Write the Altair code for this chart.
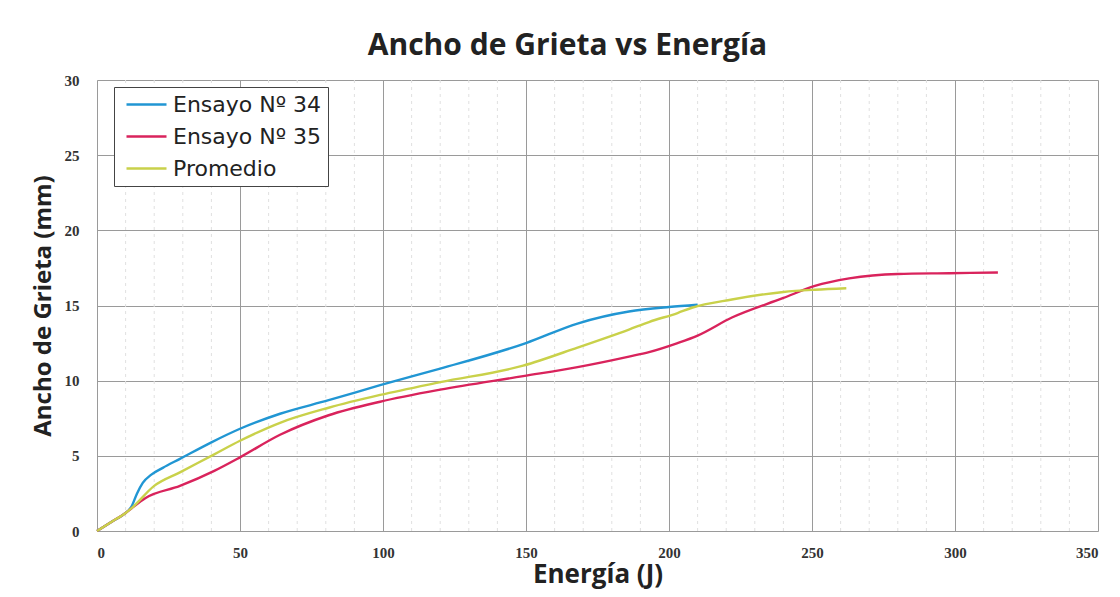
import altair as alt
import pandas as pd

# Ensayo Nº 34
x34 = [0, 5, 10, 12, 14, 16, 19, 23, 29, 40, 50, 64, 81, 99, 120, 150, 168, 186, 200, 210]
y34 = [0, 0.6, 1.2, 1.6, 2.5, 3.2, 3.75, 4.2, 4.8, 5.9, 6.8, 7.8, 8.7, 9.7, 10.8, 12.5, 13.8, 14.6, 14.9, 15.05]
# Ensayo Nº 35
x35 = [0, 5, 10, 12, 17, 29, 41, 50, 64, 81, 99, 120, 149, 168, 186, 193, 203, 210, 222, 240, 251, 263, 280, 298, 315]
y35 = [0, 0.6, 1.2, 1.5, 2.2, 3.0, 4.0, 4.9, 6.4, 7.7, 8.6, 9.4, 10.3, 10.9, 11.6, 11.9, 12.5, 13.0, 14.2, 15.5, 16.3, 16.8, 17.1, 17.15, 17.2]
# Promedio
xp = [0, 5, 10, 12, 20, 29, 41, 50, 64, 81, 99, 120, 149, 168, 186, 193, 203, 208, 222, 240, 251, 262]
yp = [0, 0.6, 1.2, 1.5, 3.0, 3.9, 5.1, 6.0, 7.2, 8.2, 9.05, 9.9, 11.0, 12.2, 13.4, 13.9, 14.5, 14.85, 15.4, 15.9, 16.05, 16.15]

series_names = ["Ensayo Nº 34", "Ensayo Nº 35", "Promedio"]
series_colors = ["#2196d3", "#d9235c", "#c9d14a"]
minor_x = [v for v in range(10, 350, 10) if v % 50 != 0]

rows = []
for name, xs, ys in zip(series_names, [x34, x35, xp], [y34, y35, yp]):
    for i, (a, b) in enumerate(zip(xs, ys)):
        rows.append({"serie": name, "E": a, "W": b, "i": i})
df = pd.DataFrame(rows)
df_minor = pd.DataFrame({"m": minor_x})

xscale = alt.Scale(domain=[0, 350], nice=False)
yscale = alt.Scale(domain=[0, 30], nice=False)

minor = alt.Chart(df_minor).mark_rule(color="#e0e0e0", strokeWidth=1, strokeDash=[3, 4]).encode(
    x=alt.X("m:Q", scale=xscale)
)

lines = alt.Chart(df).mark_line(strokeWidth=2.4, interpolate="monotone").encode(
    x=alt.X("E:Q", scale=xscale,
            axis=alt.Axis(title="Energía (J)", values=list(range(0, 351, 50)),
                          grid=True, gridColor="#9a9a9a", gridWidth=1,
                          ticks=False, domain=False, labelPadding=14,
                          labelFont="Liberation Serif", labelFontWeight="bold",
                          labelFontSize=15, labelColor="#333333",
                          titleFont="Open Sans", titleFontSize=26, titleFontWeight="bold",
                          titleColor="#222222", titlePadding=1)),
    y=alt.Y("W:Q", scale=yscale,
            axis=alt.Axis(title="Ancho de Grieta (mm)", values=list(range(0, 31, 5)),
                          grid=True, gridColor="#9a9a9a", gridWidth=1,
                          ticks=False, domain=False, labelPadding=18,
                          labelFont="Liberation Serif", labelFontWeight="bold",
                          labelFontSize=15, labelColor="#333333",
                          titleFont="Open Sans", titleFontSize=24, titleFontWeight="bold",
                          titleColor="#222222", titlePadding=9)),
    color=alt.Color("serie:N",
                    scale=alt.Scale(domain=series_names, range=series_colors),
                    legend=alt.Legend(title=None, orient="none", legendX=17, legendY=7,
                                      symbolType="M-0.5,0L3.5,0", symbolSize=400, symbolStrokeWidth=2.5,
                                      labelFont="DejaVu Sans", labelFontSize=22, labelColor="#222222",
                                      strokeColor="#444444", padding=6, rowPadding=9,
                                      fillColor="white", labelOffset=30)),
    order="i:Q",
)

chart = alt.layer(minor, lines).properties(
    width=1001, height=451,
    title=alt.TitleParams("Ancho de Grieta vs Energía", font="Open Sans", fontSize=30,
                          fontWeight="bold", color="#222222", offset=12, anchor="middle", dx=-30),
    autosize=alt.AutoSizeParams(type="none"),
    padding={"left": 89, "top": 72, "right": 14, "bottom": 66},
).configure_view(stroke="#8a8a8a", strokeWidth=1).configure(background="white")

chart.save("out.html", embed_options={"renderer": "svg", "actions": False})
